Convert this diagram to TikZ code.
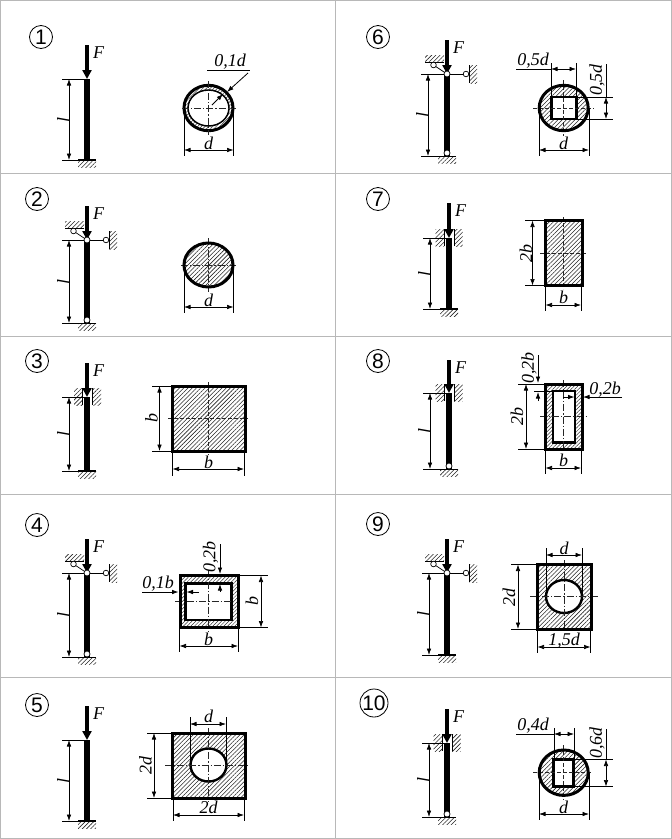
\documentclass[tikz,border=0pt]{standalone}
\usepackage{fontspec}
\setmainfont{Liberation Serif}
\setsansfont{Liberation Sans}
\usetikzlibrary{arrows.meta,patterns.meta}
\newcounter{labc}
\tikzset{
  hatch/.style={pattern={Lines[angle=45,distance=3pt,line width=.55pt]},pattern color=black!85},
  hatchfine/.style={pattern={Lines[angle=45,distance=2.6pt,line width=.5pt]},pattern color=black!80},
  gridline/.style={draw=black!28,line width=.9pt},
  thinl/.style={line width=.7pt},
  dimn/.style={line width=.7pt,{Latex[length=6.5pt,width=4.6pt]}-{Latex[length=6.5pt,width=4.6pt]}},
  lead/.style={line width=.8pt,-{Latex[length=6.5pt,width=4.6pt]}},
  cl/.style={line width=.55pt,black!85,dash pattern=on 7pt off 2pt on 1.2pt off 2pt},
  cldash/.style={line width=.6pt,black!85,dash pattern=on 4pt off 2pt},
  bold/.style={line width=3pt},
  boldi/.style={line width=2.1pt},
  txt/.style={font=\fontsize{18}{18}\selectfont\itshape,inner sep=0pt},
  numb/.style={circle,draw,line width=.8pt,minimum size=23pt,inner sep=0pt,font=\fontsize{21}{21}\selectfont\sffamily},
  joint/.style={draw,fill=white,line width=.7pt},
  load/.style={line width=3.4pt,-{Triangle[length=9pt,width=9pt]}},
}
% text label: x, y, rotation, text
\newcommand{\lab}[4]{\stepcounter{labc}\node[txt,rotate=#3] (t\thelabc) at ({#1},{#2}) {#4};}
% column: x, yF, ytop, ybot, xdim
\newcommand{\colm}[5]{
  \fill ({#1-2.8},#3) rectangle ({#1+2.8},#4);
  \draw[load] (#1,#2) -- (#1,#3);
  \draw[thinl] ({#5-7},#3) -- (#1,#3);
  \draw[thinl] ({#5-7},#4) -- (#1,#4);
  \draw[dimn] (#5,#3) -- (#5,#4);
  \lab{#1+11.5}{#2+7.5}{0}{F}
  \lab{#5-5.5}{(#3+#4)/2}{90}{l}
}
\newcommand{\fixedb}[2]{
  \path[hatch] ({#1-9},#2) rectangle ({#1+9},{#2+7});
  \draw[line width=1.8pt] ({#1-9},#2) -- ({#1+9},#2);
}
\newcommand{\pinb}[2]{
  \path[hatch] ({#1-9},#2) rectangle ({#1+9},{#2+7});
  \draw[line width=1pt] ({#1-9},#2) -- ({#1+9},#2);
  \draw[joint] (#1,{#2-3}) circle (3pt);
}
\newcommand{\slide}[2]{
  \path[hatch] ({#1-13.5},{#2-9}) rectangle ({#1-5},{#2+8});
  \path[hatch] ({#1+5},{#2-9}) rectangle ({#1+13.5},{#2+8});
  \draw[thinl] ({#1-5},{#2-9}) -- ({#1-5},{#2+8});
  \draw[thinl] ({#1+5},{#2-9}) -- ({#1+5},{#2+8});
}
\newcommand{\pint}[2]{
  \path[hatch] ({#1-22},{#2-19}) rectangle ({#1-3},{#2-12});
  \draw[thinl] ({#1-22},{#2-12}) -- ({#1-3},{#2-12});
  \draw[thinl] (#1,#2) -- ({#1-13.5},{#2-9});
  \draw[joint] ({#1-13.5},{#2-9}) circle (2.8pt);
  \path[hatch] ({#1+22},{#2-9}) rectangle ({#1+30},{#2+9});
  \draw[thinl] ({#1+22},{#2-9}) -- ({#1+22},{#2+9});
  \draw[thinl] (#1,#2) -- ({#1+19},#2);
  \draw[joint] ({#1+19},#2) circle (2.8pt);
  \draw[joint] (#1,#2) circle (3pt);
}
% horizontal dimension: x1,x2,ystart,yend,ydim
\newcommand{\hdim}[5]{
  \draw[thinl] (#1,#3) -- (#1,#4);
  \draw[thinl] (#2,#3) -- (#2,#4);
  \draw[dimn] (#1,#5) -- (#2,#5);
}
% vertical dimension: y1,y2,xstart,xend,xdim
\newcommand{\vdim}[5]{
  \draw[thinl] (#3,#1) -- (#4,#1);
  \draw[thinl] (#3,#2) -- (#4,#2);
  \draw[dimn] (#5,#1) -- (#5,#2);
}
% centre lines: style, cx, cy, xa, xb, ya, yb
\newcommand{\cross}[7]{
  \draw[#1] (#4,#3) -- (#5,#3);
  \draw[#1] (#2,#6) -- (#2,#7);
}
\begin{document}
\begin{tikzpicture}[x=1pt,y=-1pt]
\useasboundingbox (0,0) rectangle (672,839);
% grid
\draw[gridline] (0.5,0.5) rectangle (671.5,838.5);
\draw[gridline] (335.5,0) -- (335.5,839);
\foreach \yy in {173,336,494.5,677.5} \draw[gridline] (0,\yy) -- (672,\yy);
% numbers
\node[numb] (n1) at (41,37) {1};
\node[numb] (n2) at (37,199) {2};
\node[numb] (n3) at (37,361) {3};
\node[numb] (n4) at (37,525) {4};
\node[numb] (n5) at (37,705) {5};
\node[numb] (n6) at (378,37) {6};
\node[numb] (n7) at (378,199) {7};
\node[numb] (n8) at (378,361) {8};
\node[numb] (n9) at (378,524) {9};
\node[numb,minimum size=28pt] (n10) at (374,703) {10};
% columns
\colm{87}{45}{79}{160}{69}\fixedb{87}{160}
\colm{87}{206}{240}{323}{69}\pinb{87}{323}\pint{87}{240}
\slide{87.5}{397}\colm{87}{363}{397}{471}{69}\fixedb{87}{471}
\colm{87}{539}{573}{657}{69}\pinb{87}{657}\pint{87}{573}
\colm{87}{706}{740}{821}{69}\fixedb{87}{821}
\colm{447}{40}{74}{156}{428}\pinb{447}{156}\pint{447}{74}
\slide{449}{238}\colm{449}{203}{238}{309}{430}\fixedb{449}{309}
\slide{449}{393}\colm{449}{360}{393}{469}{430}\pinb{449}{469}
\colm{447}{539}{573}{655}{429}\fixedb{447}{655}\pint{447}{573}
\slide{447}{743}\colm{447}{709}{743}{817}{429}\pinb{447}{817}
% section 1
\path[hatchfine] (208.5,108) ellipse [x radius=24.5,y radius=22.7];
\draw[bold] (208.5,108) ellipse [x radius=24.5,y radius=22.7];
\draw[line width=1.5pt,fill=white] (208.5,108) ellipse [x radius=20.5,y radius=18];
\cross{cl}{208.5}{108}{182}{236}{81}{135}
\hdim{184}{233.5}{108}{156}{150}
\lab{208.5}{143}{0}{d}
\lab{230}{62}{0}{0,1d}
\draw[thinl] (207,70) -- (250,70);
\draw[lead] (248,73) -- (227,92);
\draw[lead] (212,105) -- (223,94);
% section 2
\path[hatch] (208.5,265) ellipse [x radius=24.5,y radius=22];
\cross{cl}{208.5}{265}{181}{236}{238}{292}
\draw[bold] (208.5,265) ellipse [x radius=24.5,y radius=22];
\hdim{184}{233.5}{265}{313}{307}
\lab{208.5}{300}{0}{d}
% section 3
\path[hatch] (172.5,386) rectangle (245,451);
\cross{cldash}{208.5}{418.5}{168}{248}{382}{455}
\draw[bold] (172.5,386) rectangle (245,451);
\vdim{386}{451}{152}{172}{159.5}
\lab{151.5}{418}{90}{b}
\hdim{172.5}{244}{451}{476}{469}
\lab{208.5}{462}{0}{b}
% section 4
\path[hatchfine] (180,575.5) rectangle (238,627.5);
\draw[boldi,fill=white] (185.5,583.5) rectangle (231.5,620);
\cross{cl}{208.5}{601}{175}{232}{570}{632}
\draw[bold] (180,575.5) rectangle (238,627.5);
\draw[lead] (142,592) -- (178.5,592);
\draw[lead] (199,592) -- (186.5,592);
\lab{158}{583.5}{0}{0,1b}
\draw[lead] (220,544) -- (220,574);
\draw[lead] (220,592) -- (220,584);
\lab{210.5}{557}{90}{0,2b}
\vdim{575.5}{627.5}{238}{268}{261}
\lab{252}{601}{90}{b}
\hdim{179.5}{238}{628}{652}{646}
\lab{208.5}{639}{0}{b}
% section 5
\path[hatch] (172.5,733) rectangle (245,798);
\draw[line width=2.4pt,fill=white] (208.5,765) ellipse [x radius=18,y radius=16.5];
\cross{cl}{208.5}{765}{165}{250}{728}{802}
\draw[bold] (172.5,733) rectangle (245,798);
\hdim{190}{226}{765}{717}{724}
\lab{208.5}{716}{0}{d}
\vdim{733}{798}{147}{172}{154}
\lab{145.5}{765}{90}{2d}
\hdim{173}{244}{798}{821}{815}
\lab{208.5}{807.5}{0}{2d}
% section 6
\path[hatch] (563.7,108) ellipse [x radius=24.5,y radius=22.7];
\draw[boldi,fill=white] (551.5,97) rectangle (576.5,119);
\cross{cldash}{563.7}{108}{533}{594}{80}{136}
\draw[bold] (563.7,108) ellipse [x radius=24.5,y radius=22.7];
\hdim{551}{576}{97}{63}{69}
\draw[thinl] (516,69) -- (551,69);
\lab{533}{61}{0}{0,5d}
\vdim{97}{119}{576}{613}{606}
\draw[thinl] (606,97) -- (606,64);
\lab{597}{80}{90}{0,5d}
\hdim{539}{589}{108}{156}{150}
\lab{563.7}{143}{0}{d}
% section 7
\path[hatch] (545.5,220.5) rectangle (582,285.5);
\cross{cldash}{563.5}{253}{540}{587}{217}{289}
\draw[bold] (545.5,220.5) rectangle (582,285.5);
\vdim{220.5}{285.5}{525}{545}{532.5}
\lab{526}{253}{90}{2b}
\hdim{545.5}{581}{286}{311}{305}
\lab{563.5}{297}{0}{b}
% section 8
\path[hatchfine] (545.5,384) rectangle (582,449);
\draw[boldi,fill=white] (553,391) rectangle (575,442.5);
\cross{cl}{563.5}{416.5}{540}{587}{380}{453}
\draw[bold] (545.5,384) rectangle (582,449);
\vdim{384}{449}{518}{545}{526}
\lab{517}{416.5}{90}{2b}
\draw[lead] (538,355) -- (538,383);
\draw[thinl] (534,391) -- (552,391);
\draw[lead] (538,401) -- (538,392);
\lab{529}{368}{90}{0,2b}
\draw[lead] (622,397) -- (583,397);
\draw[lead] (563,397) -- (574.5,397);
\lab{605}{390}{0}{0,2b}
\hdim{545.5}{581}{449}{474}{468}
\lab{563.5}{460}{0}{b}
% section 9
\path[hatch] (537.5,564.5) rectangle (591,629);
\draw[line width=2.4pt,fill=white] (564,596.5) ellipse [x radius=18,y radius=16.5];
\cross{cl}{564}{596.5}{530}{598}{560}{633}
\draw[bold] (537.5,564.5) rectangle (591,629);
\hdim{546}{582}{596}{548}{555}
\lab{564}{548}{0}{d}
\vdim{564.5}{629}{511}{537}{518}
\lab{509}{597}{90}{2d}
\hdim{537.5}{590.5}{629}{653}{647}
\lab{564}{640.5}{0}{1,5d}
% section 10
\path[hatch] (563.7,772.7) ellipse [x radius=24.5,y radius=22.7];
\draw[boldi,fill=white] (553.5,759.5) rectangle (573.5,786.5);
\cross{cldash}{563.7}{772.7}{533}{592}{745}{800}
\draw[bold] (563.7,772.7) ellipse [x radius=24.5,y radius=22.7];
\hdim{554}{574}{759}{728}{734}
\draw[thinl] (516,734) -- (554,734);
\lab{533}{726}{0}{0,4d}
\vdim{759.5}{786.5}{574}{613}{606}
\draw[thinl] (606,759.5) -- (606,729);
\lab{597}{743}{90}{0,6d}
\hdim{539}{589}{772.7}{820}{814}
\lab{563.7}{807}{0}{d}
\end{tikzpicture}
\end{document}
